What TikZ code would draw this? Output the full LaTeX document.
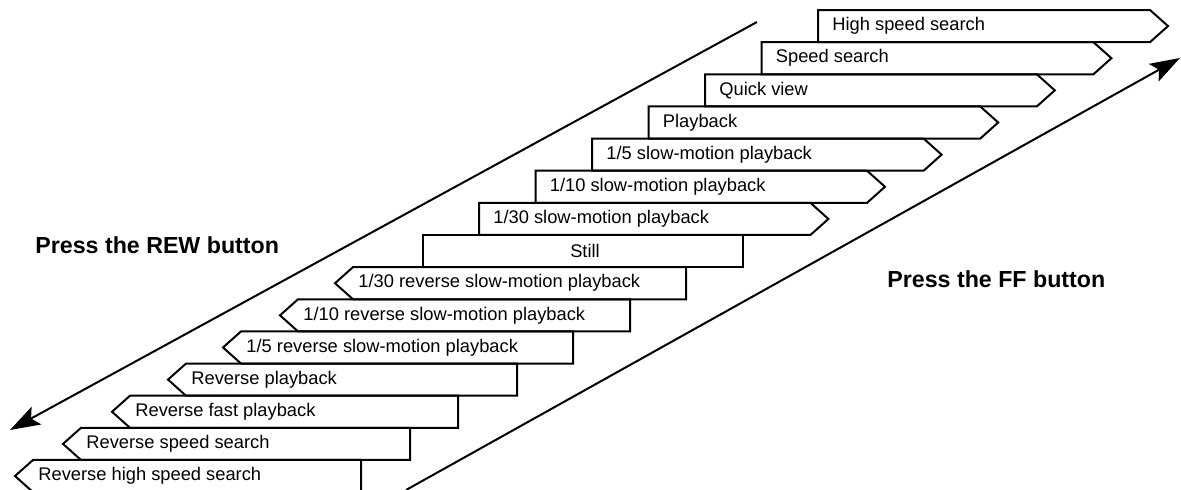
\documentclass[tikz,border=0pt]{standalone}
\usepackage{fontspec}
\setmainfont{Liberation Sans}
\usetikzlibrary{arrows.meta,positioning}

\tikzset{
  modebox/.style={draw, line width=1pt, line join=miter},
  modetext/.style={font=\fontsize{9.15}{10}\selectfont, anchor=west, inner sep=0pt},
  presstext/.style={font=\bfseries\fontsize{11.6}{13}\selectfont, anchor=west, inner sep=0pt},
  arahpanah/.style={line width=1pt, -{Stealth[length=15pt,width=10pt,inset=3pt]}}
}

\begin{document}
\begin{tikzpicture}[x=0.5pt,y=-0.5pt]
        \clip (0,0) rectangle (1181,489);
        % Mode maju (tombol FF)
        \foreach \i/\teks in {0/High speed search, 1/Speed search, 2/Quick view, 3/Playback,
            4/{1/5 slow-motion playback}, 5/{1/10 slow-motion playback}, 6/{1/30 slow-motion playback}} {
          \pgfmathsetmacro\atas{10+32.14*\i}
          \pgfmathsetmacro\kiri{818-56.5*\i}
          \pgfmathsetmacro\ujung{1168-56.6*\i}
          \draw[modebox] (\kiri,\atas) -- (\ujung-18,\atas) -- (\ujung,\atas+16.07)
            -- (\ujung-18,\atas+32.14) -- (\kiri,\atas+32.14) -- cycle;
          \node[modetext] (maju\i) at (\kiri+14,\atas+16.07) {\teks};
        }
        % Diam
        \draw[modebox] (423,235) rectangle (743,267.14);
        \node[modetext, anchor=center] (still) at (585,251) {Still};
        % Mode mundur (tombol REW)
        \foreach \i/\ujung/\kanan/\teks in {8/335/686/{1/30 reverse slow-motion playback},
            9/280/630/{1/10 reverse slow-motion playback}, 10/223/573/{1/5 reverse slow-motion playback},
            11/168/517/Reverse playback, 12/112/458/Reverse fast playback,
            13/63/410/Reverse speed search, 14/15/361/Reverse high speed search} {
          \pgfmathsetmacro\atas{10+32.14*\i}
          \draw[modebox] (\ujung,\atas+16.07) -- (\ujung+18,\atas) -- (\kanan,\atas)
            -- (\kanan,\atas+32.14) -- (\ujung+18,\atas+32.14) -- cycle;
          \node[modetext] (mundur\i) at (\ujung+23,\atas+16.07) {\teks};
        }
        % Panah arah
        \coordinate (rewawal) at (757,22);
        \coordinate (rewakhir) at (10,430);
        \coordinate (ffawal) at (406,490);
        \coordinate (ffakhir) at (1180,58);
        \draw[arahpanah] (rewawal) -- (rewakhir);
        \draw[arahpanah] (ffawal) -- (ffakhir);
        \node[presstext] (rew) at (35,245) {Press the REW button};
        \node[presstext] (ff) at (887,279) {Press the FF button};
      \end{tikzpicture}
\end{document}
